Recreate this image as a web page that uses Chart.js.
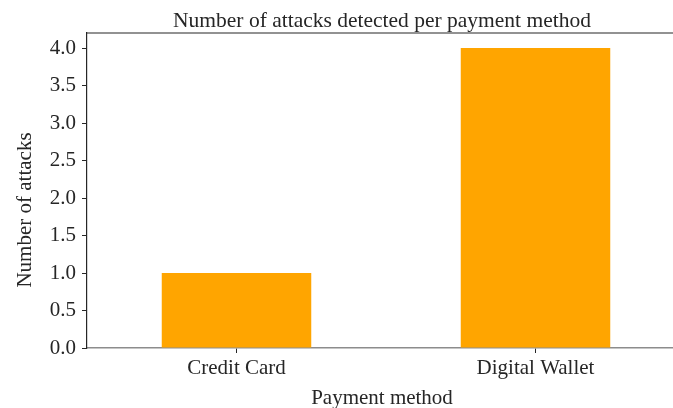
<!DOCTYPE html>
<html>
<head>
<meta charset="utf-8">
<script src="https://cdn.jsdelivr.net/npm/chart.js@4/dist/chart.umd.min.js"></script>
<style>
  html, body { margin: 0; padding: 0; background: #ffffff; overflow: hidden; }
  #outer { position: relative; width: 673px; height: 408px; overflow: hidden; }
  #wrap { position: absolute; left: 0; top: 0; width: 700px; height: 408px; }
</style>
</head>
<body>
<div id="outer"><div id="wrap"><canvas id="c"></canvas></div></div>
<script>
const categories = ["Credit Card", "Digital Wallet"];
const attackCounts = [1, 4];
const yTickValues = [0, 0.5, 1, 1.5, 2, 2.5, 3, 3.5, 4];
const chartTitle = "Number of attacks detected per payment method";
const xAxisTitle = "Payment method";
const yAxisTitle = "Number of attacks";

const serif = "'Liberation Serif', 'Times New Roman', serif";
const dark = "#262626";
const fontSize = 21;

const extras = {
  id: "extras",
  afterDraw(chart) {
    const a = chart.chartArea, ctx = chart.ctx;
    ctx.save();
    // top spine
    ctx.strokeStyle = dark;
    ctx.lineWidth = 1.2;
    ctx.beginPath();
    ctx.moveTo(a.left, a.top);
    ctx.lineTo(a.right, a.top);
    ctx.stroke();
    ctx.fillStyle = dark;
    ctx.textAlign = "center";
    ctx.textBaseline = "alphabetic";
    // chart title
    ctx.font = "21.5px " + serif;
    ctx.fillText(chartTitle, 382, 27);
    // x-axis title
    ctx.font = fontSize + "px " + serif;
    ctx.fillText(xAxisTitle, 382, 404);
    // y-axis title
    ctx.translate(31, 210);
    ctx.rotate(-Math.PI / 2);
    ctx.fillText(yAxisTitle, 0, 0);
    ctx.restore();
  }
};

new Chart(document.getElementById("c"), {
  type: "bar",
  data: {
    labels: categories,
    datasets: [{
      data: attackCounts,
      backgroundColor: "#FFA500",
      borderWidth: 0,
      barPercentage: 0.5,
      categoryPercentage: 1.0
    }]
  },
  plugins: [extras],
  options: {
    responsive: true,
    maintainAspectRatio: false,
    animation: false,
    layout: { padding: { left: 0, right: 15, top: 33, bottom: 0 } },
    plugins: {
      legend: { display: false },
      tooltip: { enabled: false },
      title: { display: false }
    },
    scales: {
      x: {
        offset: true,
        grid: { display: true, drawOnChartArea: false, offset: false, tickLength: 5, tickColor: dark },
        border: { display: true, color: "#8c8c8c", width: 1.5 },
        ticks: { color: dark, font: { family: serif, size: fontSize }, padding: 3, maxRotation: 0 },
        title: { display: false },
        afterFit(s) { s.height = 60; }
      },
      y: {
        min: 0,
        max: 4.2,
        grid: { display: true, drawOnChartArea: false, tickLength: 5, tickColor: dark },
        border: { display: true, color: dark, width: 1.2 },
        afterBuildTicks(s) { s.ticks = yTickValues.map(v => ({ value: v })); },
        ticks: {
          color: dark,
          font: { family: serif, size: fontSize },
          padding: 6,
          callback: (v) => Number(v).toFixed(1)
        },
        title: { display: false },
        afterFit(s) { s.width = 87; }
      }
    }
  }
});
</script>
</body>
</html>
